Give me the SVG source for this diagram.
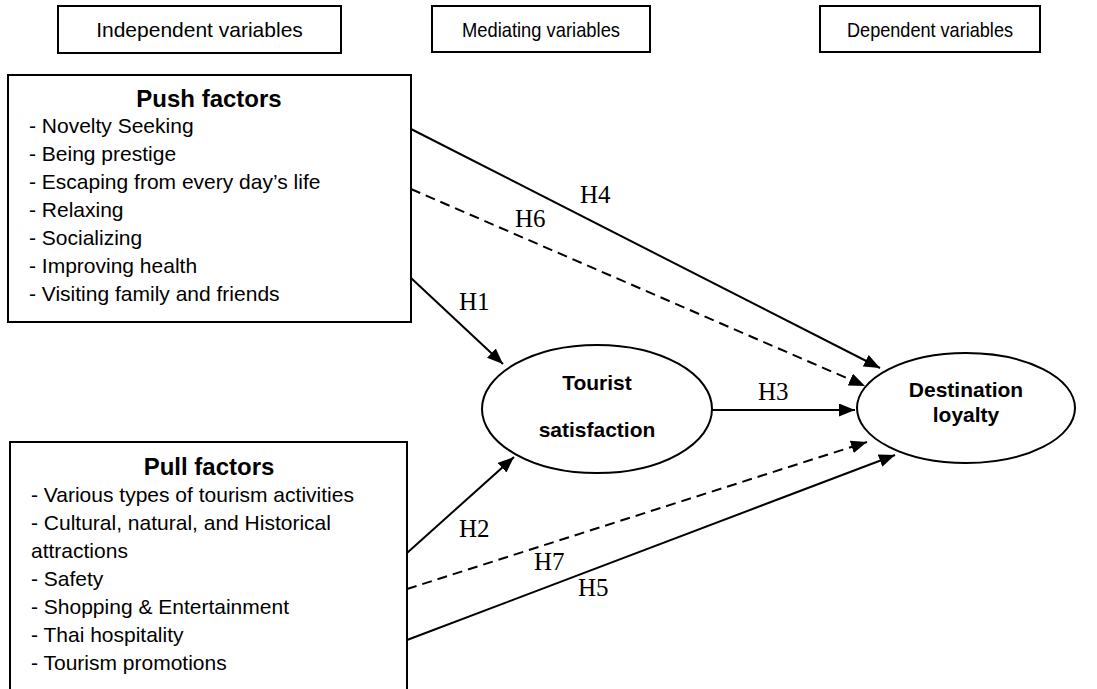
<svg xmlns="http://www.w3.org/2000/svg" width="1097" height="689" viewBox="0 0 1097 689">
<defs>
<style>
.box{fill:#fff;stroke:#000;stroke-width:2}
.hdr{font-family:"Liberation Sans",Arial,sans-serif;font-size:21px;fill:#000;text-anchor:middle}
.item{font-family:"Liberation Sans",Arial,sans-serif;font-size:21px;fill:#000}
.ttl{font-family:"Liberation Sans",Arial,sans-serif;font-size:24px;font-weight:bold;fill:#000;text-anchor:middle}
.ell{font-family:"Liberation Sans",Arial,sans-serif;font-size:21px;font-weight:bold;fill:#000;text-anchor:middle}
.lbl{font-family:"Liberation Serif","Times New Roman",serif;font-size:25px;fill:#000}
.ln{stroke:#000;stroke-width:2;fill:none;marker-end:url(#ah)}
.dash{stroke-dasharray:10,6}
</style>
<marker id="ah" markerUnits="userSpaceOnUse" markerWidth="17" markerHeight="13" refX="16" refY="6.5" orient="auto">
<path d="M0,0 L16,6.5 L0,13 z" fill="#000"/>
</marker>
</defs>
<g id="hdr-independent">
<rect class="box" x="58" y="6" width="283" height="47"/>
<text class="hdr" x="199.5" y="37">Independent variables</text>
</g>
<g id="hdr-mediating">
<rect class="box" x="432" y="6" width="218" height="46"/>
<text class="hdr" x="541" y="37" textLength="158" lengthAdjust="spacingAndGlyphs">Mediating variables</text>
</g>
<g id="hdr-dependent">
<rect class="box" x="820" y="6" width="220" height="46"/>
<text class="hdr" x="930" y="37" textLength="166" lengthAdjust="spacingAndGlyphs">Dependent variables</text>
</g>
<g id="push">
<rect class="box" x="8" y="75" width="403" height="247"/>
<text class="ttl" x="209" y="107">Push factors</text>
<text class="item" x="29" y="133">- Novelty Seeking</text>
<text class="item" x="29" y="161">- Being prestige</text>
<text class="item" x="29" y="189">- Escaping from every day’s life</text>
<text class="item" x="29" y="217">- Relaxing</text>
<text class="item" x="29" y="245">- Socializing</text>
<text class="item" x="29" y="273">- Improving health</text>
<text class="item" x="29" y="301">- Visiting family and friends</text>
</g>
<g id="pull">
<path class="box" d="M10,700 L10,442 L407,442 L407,700"/>
<text class="ttl" x="209" y="475">Pull factors</text>
<text class="item" x="31" y="502">- Various types of tourism activities</text>
<text class="item" x="31" y="530">- Cultural, natural, and Historical</text>
<text class="item" x="31" y="558">attractions</text>
<text class="item" x="31" y="586">- Safety</text>
<text class="item" x="31" y="614">- Shopping &amp; Entertainment</text>
<text class="item" x="31" y="642">- Thai hospitality</text>
<text class="item" x="31" y="670">- Tourism promotions</text>
</g>
<g id="satisfaction">
<ellipse class="box" cx="597" cy="409" rx="115" ry="64"/>
<text class="ell" x="597" y="390">Tourist</text>
<text class="ell" x="597" y="437">satisfaction</text>
</g>
<g id="loyalty">
<ellipse class="box" cx="966" cy="408" rx="109" ry="55"/>
<text class="ell" x="966" y="397">Destination</text>
<text class="ell" x="966" y="422">loyalty</text>
</g>
<g id="connectors">
<line class="ln" x1="411" y1="129" x2="880" y2="368"/>
<line class="ln dash" x1="411" y1="189" x2="865" y2="386"/>
<line class="ln" x1="411" y1="278" x2="503" y2="364"/>
<line class="ln" x1="712" y1="410" x2="855" y2="410"/>
<line class="ln" x1="407" y1="553" x2="514" y2="457"/>
<line class="ln dash" x1="407" y1="589" x2="867" y2="442"/>
<line class="ln" x1="407" y1="640" x2="895" y2="455"/>
<text class="lbl" x="580" y="203">H4</text>
<text class="lbl" x="515" y="227">H6</text>
<text class="lbl" x="459" y="310">H1</text>
<text class="lbl" x="758" y="400">H3</text>
<text class="lbl" x="459" y="537">H2</text>
<text class="lbl" x="534" y="570">H7</text>
<text class="lbl" x="578" y="596">H5</text>
</g>
</svg>
